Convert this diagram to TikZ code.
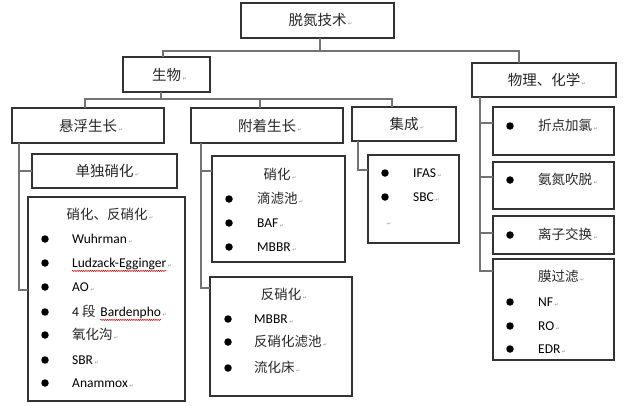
\documentclass[tikz,border=0pt]{standalone}
\usepackage{fontspec}
\setmainfont{Carlito}
\newfontfamily\cjk{Noto Sans CJK SC}
\newfontfamily\arrf{DejaVu Sans}
\usetikzlibrary{decorations.pathmorphing}
\newcommand\pmk{\rlap{\hspace{1.5pt}\textcolor{black!45}{\arrf\fontsize{5}{6}\selectfont ↵}}}
\newcommand\zh[1]{{\cjk\color{black!85}#1}}
\newcommand\mybox[6]{\node[box, minimum width={(#4-#2)*1pt}, minimum height={(#5-#3)*1pt}] (#1) at ({(#2+#4)/2},{(#3+#5)/2}) {#6};}
\newcommand\myitem[5]{\node[dot] (#1d) at (#2,#4) {};\node[itm] (#1) at (#3,#4+4.7) {#5};}
\begin{document}
\begin{tikzpicture}[x=1pt,y=-1pt,
 box/.style={draw=black!80, line width=1.2pt, inner sep=0pt, outer sep=0pt, font=\cjk\fontsize{14.5}{17}\selectfont, text=black!85},
 conn/.style={draw=black!55, line width=1.1pt},
 dot/.style={circle, fill=black, inner sep=0pt, minimum size=7.5pt},
 itm/.style={inner sep=0pt, anchor=base west, font=\fontsize{13.5}{16}\selectfont, text=black},
 ttl/.style={inner sep=0pt, anchor=base, font=\cjk\fontsize{13.5}{16}\selectfont, text=black!85},
 squig/.style={draw=red!85!black, line width=0.5pt, decorate, decoration={snake, amplitude=0.6pt, segment length=2.2pt}}]
\useasboundingbox (0,0) rectangle (623,405);
% boxes
\mybox{root}{241}{3}{394}{38}{脱氮技术\pmk}
\mybox{bio}{123}{57}{210}{92}{生物\pmk}
\mybox{phys}{472}{63}{616}{97}{物理、化学\pmk}
\mybox{xf}{12}{108}{164}{143}{悬浮生长\pmk}
\mybox{fz}{191}{108}{343}{143}{附着生长\pmk}
\mybox{jc}{352}{107}{456}{141}{集成\pmk}
\mybox{dual}{32}{154}{177}{188}{单独硝化\pmk}
\mybox{nd}{28}{197}{185}{401}{}
\mybox{nitr}{212}{156}{345}{262}{}
\mybox{dn}{210}{277}{352}{396}{}
\mybox{ifas}{368}{155}{459}{243}{}
\mybox{zd}{493}{107}{614}{155}{}
\mybox{ad}{493}{162}{614}{209}{}
\mybox{lz}{493}{216}{614}{254}{}
\mybox{mg}{493}{259}{614}{360}{}
% connectors
\draw[conn] ([xshift=2.5pt]root.south) -- ++(0,13) coordinate (j0);
\draw[conn] ([xshift=-3.5pt]bio.north) |- (j0) -| ([xshift=-25pt]phys.north);
\draw[conn] ([xshift=-5.5pt]bio.south) -- ++(0,7) coordinate (j1);
\draw[conn] ([xshift=-3pt]xf.north) |- (j1) -| ([xshift=-12pt]jc.north);
\draw[conn] ([xshift=-7pt]fz.north) -- ([xshift=-7pt]fz.north |- j1);
\draw[conn] ([xshift=7pt]xf.south west) |- (dual.west);
\draw[conn] ([xshift=7pt]xf.south west) |- ([yshift=9pt]nd.west);
\draw[conn] ([xshift=10pt]fz.south west) |- ([yshift=-15pt]nitr.north west);
\draw[conn] ([xshift=10pt]fz.south west) |- ([yshift=-11pt]dn.north west);
\draw[conn] ([xshift=6pt]jc.south west) |- ([yshift=-15pt]ifas.north west);
\draw[conn] ([xshift=8pt]phys.south west) |- ([yshift=-16pt]zd.north west);
\draw[conn] ([xshift=8pt]phys.south west) |- ([yshift=-15pt]ad.north west);
\draw[conn] ([xshift=8pt]phys.south west) |- ([yshift=-17pt]lz.north west);
\draw[conn] ([xshift=8pt]phys.south west) |- ([yshift=-12pt]mg.north west);
% nd list
\node[ttl] (ndt) at (107,215+4.7) {硝化、反硝化\pmk};
\myitem{n1}{45}{72}{239}{Wuhrman\pmk}
\myitem{n2}{45}{72}{263}{Ludzack-Egginger\pmk}
\myitem{n3}{45}{72}{287}{AO\pmk}
\myitem{n4}{45}{72}{312}{4 \zh{段}}
\node[itm] (n4b) at ([xshift=4.5pt]n4.base east) {Bardenpho\pmk};
\myitem{n5}{45}{72}{335}{\zh{氧化沟}\pmk}
\myitem{n6}{45}{72}{360}{SBR\pmk}
\myitem{n7}{45}{72}{383}{Anammox\pmk}
\draw[squig] ([yshift=-3.2pt]n2.base west) -- ([yshift=-3.2pt]n2.base east);
\draw[squig] ([yshift=-3.2pt]n4b.base west) -- ([yshift=-3.2pt]n4b.base east);
% nitr list
\node[ttl] (nitrt) at (277,175+4.7) {硝化\pmk};
\myitem{a1}{229}{257}{199}{\zh{滴滤池}\pmk}
\myitem{a2}{229}{257}{223}{BAF\pmk}
\myitem{a3}{229}{257}{247}{MBBR\pmk}
% dn list
\node[ttl] (dnt) at (281,295+4.7) {反硝化\pmk};
\myitem{b1}{228}{254}{319}{MBBR\pmk}
\myitem{b2}{228}{254}{342}{\zh{反硝化滤池}\pmk}
\myitem{b3}{228}{254}{368}{\zh{流化床}\pmk}
% ifas list
\myitem{c1}{385}{413}{173}{IFAS\pmk}
\myitem{c2}{385}{413}{197}{SBC\pmk}
\node[itm] (c3) at (385,223+2) {\pmk};
% physical-chemical
\myitem{p1}{510}{538}{126}{\zh{折点加氯}\pmk}
\myitem{p2}{510}{538}{180}{\zh{氨氮吹脱}\pmk}
\myitem{p3}{510}{538}{235}{\zh{离子交换}\pmk}
\node[itm] (mgt) at (538,277+4.7) {\zh{膜过滤}\pmk};
\myitem{m1}{510}{538}{302}{NF\pmk}
\myitem{m2}{510}{538}{326}{RO\pmk}
\myitem{m3}{510}{538}{349}{EDR\pmk}
\end{tikzpicture}
\end{document}
